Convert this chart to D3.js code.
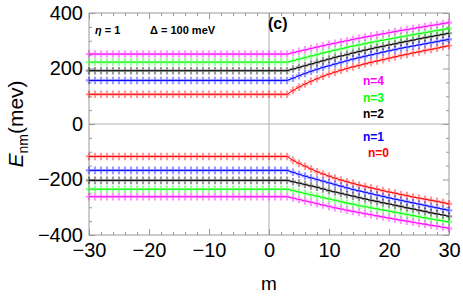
<!DOCTYPE html>
<html>
<head>
<meta charset="utf-8">
<script src="https://cdn.jsdelivr.net/npm/d3@7"></script>
<style>
  body { margin: 0; background: #fff; }
  svg { display: block; font-family: "Liberation Sans", Arial, sans-serif; }
</style>
</head>
<body>
<div id="chart"></div>
<script>
// m values on the x axis
var mValues = [-30,-29,-28,-27,-26,-25,-24,-23,-22,-21,-20,-19,-18,-17,-16,-15,-14,-13,-12,-11,
  -10,-9,-8,-7,-6,-5,-4,-3,-2,-1,0,1,2,3,4,5,6,7,8,9,10,11,12,13,14,15,16,17,18,19,20,
  21,22,23,24,25,26,27,28,29,30];

// positive branch (meV)
var n0Pos = [107,107,107,107,107,107,107,107,107,107,107,107,107,107,107,107,107,107,107,107,107,107,107,107,107,107,107,107,107,107,107,107,107,
  107,121,133,144,154,163,172,180,187,194,200,206,211,217,222,227,232,237,242,247,251,256,260,265,269,273,278,282];
var n1Pos = [157,157,157,157,157,157,157,157,157,157,157,157,157,157,157,157,157,157,157,157,157,157,157,157,157,157,157,157,157,157,157,157,157,
  157,165,174,182,190,197,204,210,216,222,228,234,239,244,249,254,259,264,268,273,277,281,285,289,293,297,301,305];
var n2Pos = [192,192,192,192,192,192,192,192,192,192,192,192,192,192,192,192,192,192,192,192,192,192,192,192,192,192,192,192,192,192,192,192,192,
  192,198,204,210,216,222,228,234,240,245,250,256,261,266,271,276,280,285,289,294,298,302,307,311,315,319,323,327];
var n3Pos = [223,223,223,223,223,223,223,223,223,223,223,223,223,223,223,223,223,223,223,223,223,223,223,223,223,223,223,223,223,223,223,223,223,
  223,228,234,239,245,250,256,261,266,271,276,281,285,290,294,298,302,306,310,314,318,322,326,329,333,337,340,344];
var n4Pos = [252,252,252,252,252,252,252,252,252,252,252,252,252,252,252,252,252,252,252,252,252,252,252,252,252,252,252,252,252,252,252,252,252,
  252,257,262,267,272,277,282,287,291,296,300,305,309,313,317,321,325,329,333,337,340,344,348,351,355,358,362,365];

// negative branch (meV)
var n0Neg = [-117,-117,-117,-117,-117,-117,-117,-117,-117,-117,-117,-117,-117,-117,-117,-117,-117,-117,-117,-117,-117,-117,-117,-117,-117,-117,-117,-117,-117,-117,-117,-117,-117,
  -117,-131,-142,-152,-162,-172,-180,-188,-195,-202,-208,-214,-220,-225,-230,-235,-240,-245,-249,-254,-258,-263,-267,-271,-275,-279,-283,-288];
var n1Neg = [-167,-167,-167,-167,-167,-167,-167,-167,-167,-167,-167,-167,-167,-167,-167,-167,-167,-167,-167,-167,-167,-167,-167,-167,-167,-167,-167,-167,-167,-167,-167,-167,-167,
  -167,-174,-181,-188,-194,-200,-206,-212,-218,-224,-230,-236,-241,-246,-251,-256,-261,-266,-271,-275,-280,-284,-289,-293,-298,-302,-307,-311];
var n2Neg = [-203,-203,-203,-203,-203,-203,-203,-203,-203,-203,-203,-203,-203,-203,-203,-203,-203,-203,-203,-203,-203,-203,-203,-203,-203,-203,-203,-203,-203,-203,-203,-203,-203,
  -203,-208,-213,-218,-223,-228,-234,-240,-245,-250,-255,-260,-265,-270,-275,-279,-284,-288,-293,-297,-302,-306,-311,-315,-320,-324,-328,-333];
var n3Neg = [-235,-235,-235,-235,-235,-235,-235,-235,-235,-235,-235,-235,-235,-235,-235,-235,-235,-235,-235,-235,-235,-235,-235,-235,-235,-235,-235,-235,-235,-235,-235,-235,-235,
  -235,-240,-245,-250,-255,-260,-265,-270,-275,-280,-285,-289,-294,-298,-302,-306,-310,-314,-318,-322,-326,-330,-334,-338,-342,-346,-349,-353];
var n4Neg = [-262,-262,-262,-262,-262,-262,-262,-262,-262,-262,-262,-262,-262,-262,-262,-262,-262,-262,-262,-262,-262,-262,-262,-262,-262,-262,-262,-262,-262,-262,-262,-262,-262,
  -262,-267,-272,-277,-282,-287,-292,-297,-302,-306,-311,-315,-319,-323,-327,-331,-335,-339,-343,-347,-350,-354,-358,-361,-365,-368,-372,-376];

var seriesNames = ["n=0","n=1","n=2","n=3","n=4"];
var seriesColors = ["#ff0000","#0000ff","#000000","#00ff00","#ff00ff"];
var xTicks = [-30,-20,-10,0,10,20,30];
var yTicks = [-400,-200,0,200,400];

var width = 463, height = 299;
var plotLeft = 89, plotRight = 449, plotTop = 13, plotBottom = 235;

var svg = d3.select("#chart").append("svg")
  .attr("width", width)
  .attr("height", height);

var x = d3.scaleLinear().domain([-30, 30]).range([plotLeft, plotRight]);
var y = d3.scaleLinear().domain([-400, 400]).range([plotBottom, plotTop]);

var frameColor = "#9a9a9a";

// grid lines through the origin
svg.append("line").attr("x1", x(0)).attr("x2", x(0)).attr("y1", plotTop).attr("y2", plotBottom)
  .attr("stroke", "#b0b0b0").attr("stroke-width", 1);
svg.append("line").attr("x1", plotLeft).attr("x2", plotRight).attr("y1", y(0)).attr("y2", y(0))
  .attr("stroke", "#b0b0b0").attr("stroke-width", 1);

var xMinor = d3.range(-30, 31, 2).filter(function(v) { return v % 10 != 0; });
var yMinor = d3.range(-400, 401, 50).filter(function(v) { return v % 200 != 0; });

function styleAxis(g) {
  g.selectAll("path").remove();
  g.selectAll("line").attr("stroke", frameColor);
  g.selectAll("text").attr("fill", "#000").style("font-size", "20px")
    .style("font-family", "'Liberation Sans', Arial, sans-serif");
}

// bottom
svg.append("g").attr("transform", "translate(0," + plotBottom + ")")
  .call(d3.axisBottom(x).tickValues(xTicks).tickSizeInner(-6).tickSizeOuter(0).tickPadding(8)
    .tickFormat(d3.format("")))
  .call(styleAxis);
svg.append("g").attr("transform", "translate(0," + plotBottom + ")")
  .call(d3.axisBottom(x).tickValues(xMinor).tickSize(-3).tickFormat(""))
  .call(styleAxis);
// top
svg.append("g").attr("transform", "translate(0," + plotTop + ")")
  .call(d3.axisTop(x).tickValues(xTicks).tickSize(-6).tickFormat(""))
  .call(styleAxis);
svg.append("g").attr("transform", "translate(0," + plotTop + ")")
  .call(d3.axisTop(x).tickValues(xMinor).tickSize(-3).tickFormat(""))
  .call(styleAxis);
// left
svg.append("g").attr("transform", "translate(" + plotLeft + ",0)")
  .call(d3.axisLeft(y).tickValues(yTicks).tickSizeInner(-6).tickSizeOuter(0).tickPadding(6)
    .tickFormat(d3.format("")))
  .call(styleAxis);
svg.append("g").attr("transform", "translate(" + plotLeft + ",0)")
  .call(d3.axisLeft(y).tickValues(yMinor).tickSize(-3).tickFormat(""))
  .call(styleAxis);
// right
svg.append("g").attr("transform", "translate(" + plotRight + ",0)")
  .call(d3.axisRight(y).tickValues(yTicks).tickSize(-6).tickFormat(""))
  .call(styleAxis);
svg.append("g").attr("transform", "translate(" + plotRight + ",0)")
  .call(d3.axisRight(y).tickValues(yMinor).tickSize(-3).tickFormat(""))
  .call(styleAxis);

// frame
svg.append("rect").attr("x", plotLeft).attr("y", plotTop)
  .attr("width", plotRight - plotLeft).attr("height", plotBottom - plotTop)
  .attr("fill", "none").attr("stroke", frameColor).attr("stroke-width", 1);

var branches = [
  [n0Pos, n1Pos, n2Pos, n3Pos, n4Pos],
  [n0Neg, n1Neg, n2Neg, n3Neg, n4Neg]
];

var line = d3.line()
  .x(function(d, i) { return x(mValues[i]); })
  .y(function(d) { return y(d); });

var plot = svg.append("g");

branches.forEach(function(branch) {
  branch.forEach(function(vals, k) {
    var c = seriesColors[k];
    var g = plot.append("g");
    // plus markers
    g.selectAll("path.mark")
      .data(vals)
      .enter().append("path")
      .attr("class", "mark")
      .attr("d", function(d, i) {
        var px = x(mValues[i]), py = y(d);
        return "M" + (px - 3.2) + "," + py + "H" + (px + 3.2) +
               "M" + px + "," + (py - 3.8) + "V" + (py + 3.8);
      })
      .attr("stroke", c)
      .attr("stroke-opacity", 0.4)
      .attr("stroke-width", 2.2)
      .attr("fill", "none");
    g.append("path")
      .datum(vals)
      .attr("d", line)
      .attr("fill", "none")
      .attr("stroke", c)
      .attr("stroke-width", 1);
  });
});

// axis labels
var yl = svg.append("text")
  .attr("transform", "translate(23," + ((plotTop + plotBottom) / 2) + ") rotate(-90)")
  .attr("text-anchor", "middle")
  .style("font-size", "21px");
yl.append("tspan").style("font-style", "italic").text("E");
yl.append("tspan").attr("dy", 5).style("font-size", "14px").text("nm");
yl.append("tspan").attr("dy", -5).text("(mev)");

svg.append("text")
  .attr("x", x(0)).attr("y", 290)
  .attr("text-anchor", "middle")
  .style("font-size", "19px")
  .text("m");

// annotations
svg.append("text").attr("x", 95).attr("y", 34)
  .style("font-size", "11px").style("font-weight", "bold")
  .html("<tspan font-style='italic'>η</tspan> = 1");
svg.append("text").attr("x", 150).attr("y", 34)
  .style("font-size", "11px").style("font-weight", "bold")
  .text("Δ  = 100 meV");
svg.append("text").attr("x", 268).attr("y", 29)
  .style("font-size", "16px").style("font-weight", "bold")
  .text("(c)");

// legend labels
var legendY = [153, 137, 114, 98, 81];
var legendX = [368, 363, 363, 363, 363];
seriesNames.forEach(function(name, k) {
  svg.append("text")
    .attr("x", legendX[k]).attr("y", legendY[k] + 4)
    .attr("fill", seriesColors[k])
    .style("font-size", "12px").style("font-weight", "bold")
    .text(name);
});
</script>
</body>
</html>
